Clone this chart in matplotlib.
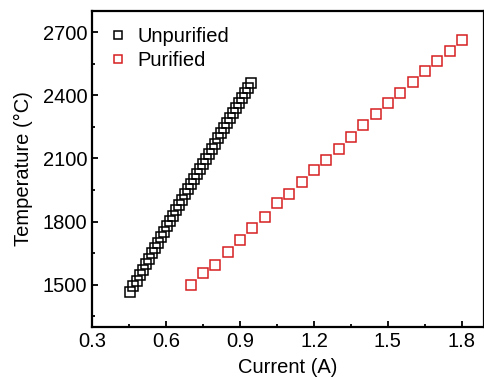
import matplotlib
matplotlib.use("Agg")
import matplotlib.pyplot as plt
from matplotlib.ticker import MultipleLocator

plt.rcParams['font.family'] = ['Liberation Sans', 'DejaVu Sans']

unpur_current = [0.455, 0.467, 0.480, 0.492, 0.504, 0.516, 0.529, 0.541, 0.553, 0.565,
                 0.578, 0.590, 0.602, 0.614, 0.627, 0.639, 0.651, 0.663, 0.676, 0.688,
                 0.700, 0.712, 0.725, 0.737, 0.749, 0.761, 0.774, 0.786, 0.798, 0.810,
                 0.823, 0.835, 0.847, 0.859, 0.872, 0.884, 0.896, 0.908, 0.921, 0.933, 0.945]
unpur_temp = [1468, 1494, 1520, 1546, 1572, 1598, 1624, 1650, 1675, 1701,
              1727, 1752, 1778, 1803, 1829, 1854, 1879, 1904, 1929, 1954,
              1979, 2003, 2027, 2051, 2075, 2099, 2123, 2147, 2171, 2195,
              2219, 2243, 2267, 2291, 2315, 2339, 2363, 2387, 2411, 2435, 2459]

pur_current = [0.70, 0.75, 0.80, 0.85, 0.90, 0.95, 1.00, 1.05, 1.10, 1.15, 1.20, 1.25,
               1.30, 1.35, 1.40, 1.45, 1.50, 1.55, 1.60, 1.65, 1.70, 1.75, 1.80]
pur_temp = [1500, 1555, 1595, 1655, 1712, 1769, 1824, 1888, 1930, 1986, 2044, 2093,
            2145, 2200, 2258, 2310, 2361, 2410, 2464, 2516, 2565, 2611, 2660]

xticks = [0.3, 0.6, 0.9, 1.2, 1.5, 1.8]
yticks = [1500, 1800, 2100, 2400, 2700]

fig = plt.figure(figsize=(4.85, 3.77), dpi=100)
ax = fig.add_axes([92.3/485, 1-327/377, (484-92.3)/485, (327-11)/377])

red = '#d61f22'
ax.plot(unpur_current, unpur_temp, linestyle='none', marker='s', markersize=7.4,
        markerfacecolor='none', markeredgecolor='black', markeredgewidth=1.1, label='Unpurified')
ax.plot(pur_current, pur_temp, linestyle='none', marker='s', markersize=7.4,
        markerfacecolor='none', markeredgecolor=red, markeredgewidth=1.1, label='Purified')

ax.set_xlim(0.3, 1.89)
ax.set_ylim(1300, 2800)
ax.set_xticks(xticks)
ax.set_yticks(yticks)
ax.xaxis.set_minor_locator(MultipleLocator(0.15))
ax.yaxis.set_minor_locator(MultipleLocator(150))
ax.tick_params(which='both', direction='in', top=False, right=False, labelsize=14.5, width=1.3)
ax.tick_params(which='major', length=4)
ax.tick_params(which='minor', length=2.5)
for s in ax.spines.values():
    s.set_linewidth(1.6)

ax.set_xlabel('Current (A)', fontsize=14.5, labelpad=5)
ax.set_ylabel('Temperature (°C)', fontsize=14.5, labelpad=7)

ax.legend(loc='upper left', frameon=False, fontsize=14.5, markerscale=0.75,
          handlelength=1.0, handletextpad=0.45, borderaxespad=0.3, labelspacing=0.25,
          bbox_to_anchor=(0.005, 0.995))

fig.savefig('out.png', dpi=100)
